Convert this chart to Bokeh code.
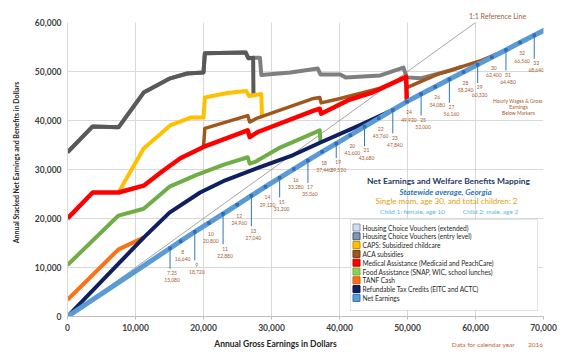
import math
from bokeh.plotting import figure
from bokeh.models import Label, BoxAnnotation, NumeralTickFormatter, FixedTicker, ColumnDataSource
from bokeh.embed import file_html
from bokeh.resources import INLINE
from bokeh.core.properties import value

# ---------------- data ----------------
series_names = [
    "Housing Choice Vouchers (extended)",
    "Housing Choice Vouchers (entry level)",
    "CAPS: Subsidized childcare",
    "ACA subsidies",
    "Medical Assistance (Medicaid and PeachCare)",
    "Food Assistance (SNAP, WIC, school lunches)",
    "TANF Cash",
    "Refundable Tax Credits (EITC and ACTC)",
    "Net Earnings",
]

housing_ext_gross = [0, 3700, 7500, 11200, 15100, 17600, 20000, 20200, 26200, 26600, 27500, 28300,
                     28500, 32800, 36800, 37200, 40100, 40900, 46000, 49400, 49900, 51900, 56300, 58000]
housing_ext_total = [33500, 38800, 38600, 45700, 48600, 49600, 49800, 53700, 53900, 52700, 52800, 52800,
                     49300, 49800, 50600, 49400, 49400, 48800, 49200, 50800, 48800, 48600, 50200, 51000]

housing_entry_gross = [0, 3700, 7500, 11200, 15100, 17600, 20000, 20200, 26200, 26600, 27300, 27350]
housing_entry_total = [33500, 38800, 38600, 45700, 48600, 49600, 49800, 53700, 53900, 52700, 52800, 45200]

caps_gross = [7500, 11200, 15100, 18100, 20000, 20200, 23500, 26300, 26700, 28500, 28600]
caps_total = [25300, 34300, 39000, 40600, 40600, 44700, 45600, 46000, 45000, 45400, 40900]

aca_gross = [20000, 20200, 26500, 26800, 27900, 36200, 37100, 37300, 40100, 46000, 49800, 49900,
             54400, 58000, 61000, 64000]
aca_total = [34600, 38400, 41000, 39700, 40500, 44500, 44700, 43600, 44500, 46600, 48900, 46700,
             49400, 51000, 52300, 54100]

medical_gross = [0, 3700, 7500, 11200, 14100, 16600, 20000, 26500, 26800, 27900, 36200, 37100, 37300,
                 41200, 45000, 49800, 49900]
medical_total = [20000, 25300, 25300, 26700, 29800, 32300, 34600, 38000, 36600, 37600, 42000, 42400, 41400,
                 44100, 45800, 48900, 43850]

food_gross = [0, 7500, 11200, 15000, 19000, 23000, 26500, 26800, 27500, 31000, 37100, 37200]
food_total = [10500, 20600, 22000, 26500, 28900, 31000, 32500, 31200, 31500, 34300, 38000, 35500]

tanf_gross = [0, 7500, 11200]
tanf_total = [3400, 13700, 16100]

refund_gross = [0, 11200, 15000, 19500, 23200, 28100, 33100, 37200, 43100, 47000, 47840]
refund_total = [0, 16100, 21200, 25300, 27800, 30400, 32900, 35500, 39100, 41600, 42150]

wage_rates = ["7.25", "8", "9", "10", "11", "12", "13", "14", "15", "16", "17", "18", "19", "20",
              "21", "22", "23", "24", "25", "26", "27", "28", "29", "30", "31", "32", "33"]
wage_gross = [15080, 16640, 18720, 20800, 22880, 24960, 27040, 29120, 31200, 33280, 35360, 37440,
              39520, 41600, 43680, 45760, 47840, 49920, 52000, 54080, 56160, 58240, 60320, 62400,
              64480, 66560, 68640]
net_at_wage = [13930, 15370, 17290, 19100, 20950, 22800, 24650, 26500, 28300, 30100, 31850, 33600,
               35300, 37000, 38750, 40450, 42150, 43850, 45400, 46900, 48400, 49900, 51400, 52900,
               54400, 55900, 57400]
net_start_gross, net_start = 0, 0
net_end_gross, net_end = 70500, 58700

ref_gross = [0, 61000]
ref_total = [0, 61000]

x_ticks = [0, 10000, 20000, 30000, 40000, 50000, 60000, 70000]
y_ticks = [0, 10000, 20000, 30000, 40000, 50000, 60000]

# ---------------- layout ----------------
W, H = 569, 357
FL, FR, FT, FB = 67, 543, 22, 316
X_MAX, Y_MAX = 70000, 60000
FONT = "Lato"


def gx(px):
    return (px - FL) / (FR - FL) * X_MAX


def gy(py):
    return (FB - py) / (FB - FT) * Y_MAX


PX_Y = Y_MAX / (FB - FT)

p = figure(width=W, height=H, x_range=(0, X_MAX), y_range=(0, Y_MAX),
           output_backend="svg", toolbar_location=None,
           min_border_left=FL, min_border_right=W - FR, min_border_top=FT, min_border_bottom=H - FB)
p.outline_line_color = None
p.background_fill_color = "white"
p.border_fill_color = "white"

for g in (p.xgrid, p.ygrid):
    g.grid_line_color = "#D9D9D9"
    g.grid_line_width = 1
p.xgrid.ticker = FixedTicker(ticks=x_ticks)
p.ygrid.ticker = FixedTicker(ticks=y_ticks)

p.xaxis.ticker = FixedTicker(ticks=x_ticks)
p.yaxis.ticker = FixedTicker(ticks=y_ticks)
for ax in (p.xaxis, p.yaxis):
    ax.formatter = NumeralTickFormatter(format="0,0")
    ax.major_label_text_font = FONT
    ax.major_label_text_font_style = "bold"
    ax.major_label_text_font_size = "8.5px"
    ax.major_label_text_color = "#404040"
    ax.minor_tick_line_color = None
    ax.major_tick_in = 0
p.xaxis.axis_line_color = "#BFBFBF"
p.xaxis.major_tick_line_color = "#BFBFBF"
p.xaxis.major_tick_out = 3
p.xaxis.major_label_standoff = 4
p.yaxis.axis_line_color = "#D9D9D9"
p.yaxis.major_tick_line_color = None
p.yaxis.major_tick_out = 0
p.yaxis.major_label_standoff = 6

# 1:1 reference line
p.line(ref_gross, ref_total, line_color="#A6A6A6", line_width=1)

colors = ["#7F7F7F", "#595959", "#FFC000", "#A0571E", "#FF0000", "#70AD47", "#FF7014", "#0F1F5F", "#5B9BD5"]
widths = [4, 4, 4, 3.5, 4.5, 4, 4, 4, 5]
series = [
    (housing_ext_gross, housing_ext_total),
    (housing_entry_gross, housing_entry_total),
    (caps_gross, caps_total),
    (aca_gross, aca_total),
    (medical_gross, medical_total),
    (food_gross, food_total),
    (tanf_gross, tanf_total),
    (refund_gross, refund_total),
]
for (xs, ys), c, w in zip(series, colors[:8], widths[:8]):
    p.line(xs, ys, line_color=c, line_width=w, line_join="round")

net_x = [net_start_gross] + wage_gross + [net_end_gross]
net_y = [net_start] + net_at_wage + [net_end]
p.line(net_x, net_y, line_color=colors[8], line_width=widths[8], line_join="round")
p.scatter(wage_gross, net_at_wage, marker="square", size=3.5, fill_color="#2E6DB4", line_color=None)

# wage labels below markers
short_drop = 11
long_drops = [25, 33, 35, 35, 24, 27, 19, 24, 28, 26, 28, 23, 25, 28]
drops = []
li = 0
for i in range(len(wage_gross)):
    if i % 2 == 0:
        drops.append(long_drops[li])
        li += 1
    else:
        drops.append(short_drop)
lab_src = ColumnDataSource(dict(
    x=wage_gross, y=net_at_wage,
    text=[f"{r}\n{g:,}" for r, g in zip(wage_rates, wage_gross)],
    yoff=[d - 3.2 for d in drops],
))
seg_x = [g for i, g in enumerate(wage_gross) if i % 2 == 0]
seg_y0 = [n for i, n in enumerate(net_at_wage) if i % 2 == 0]
seg_y1 = [n - (drops[i] - 4.5) * PX_Y for i, n in enumerate(net_at_wage) if i % 2 == 0]
p.segment(seg_x, seg_y0, seg_x, seg_y1, line_color="#2E75B6", line_width=1)
p.text(x="x", y="y", text="text", source=lab_src, y_offset="yoff", x_offset=2,
       text_align="center", text_baseline="top", text_font=value(FONT),
       text_font_size="5px", text_color="#A65E2E", text_line_height=1.2)


def label(px, py, text, size, color, style="normal", align="center"):
    p.add_layout(Label(x=gx(px), y=gy(py), text=text, text_font=FONT, text_font_size=size,
                       text_color=color, text_font_style=style, text_align=align,
                       text_baseline="middle"))


def plabel(px, py, text, size, color, place, style="normal", align="center", angle=0.0):
    # label held in a side panel, placed in canvas units
    p.add_layout(Label(x=px, y=py, x_units="canvas", y_units="canvas", text=text,
                       text_font=FONT, text_font_size=size, text_color=color, angle=angle,
                       text_font_style=style, text_align=align, text_baseline="middle"), place)


plabel(275, 343, "Annual Gross Earnings in Dollars", "8.5px", "#262626", "below", "bold")
plabel(483, 344, "Data for calendar year", "6.5px", "#B9653A", "below")
plabel(535, 344, "2016", "6.5px", "#B9653A", "below")
plabel(497, 15, "1:1 Reference Line", "7px", "#A0603A", "above")
plabel(15, 162, "Annual Stacked Net Earnings and Benefits in Dollars", "7px", "#262626", "left",
       "bold", angle=math.pi / 2)

label(518, 100, "Hourly  Wages & Gross", "5px", "#A65E2E")
label(518, 106, "Earnings", "5px", "#A65E2E")
label(518, 112, "Below Markers", "5px", "#A65E2E")

label(448, 180, "Net Earnings and Welfare Benefits Mapping", "8.4px", "#1F3864", "bold")
label(445, 191, "Statewide average, Georgia", "8px", "#2E75B6", "bold italic")
label(446, 200.5, "Single mom, age 30, and total children: 2", "8px", "#E3A008")
label(412, 211, "Child 1: female, age 10", "6.5px", "#5BB4E5")
label(490, 211, "Child 2: male, age 2", "6.5px", "#5BB4E5")

# legend
p.add_layout(BoxAnnotation(left=gx(350), right=gx(537), top=gy(219), bottom=gy(310),
                           fill_color="white", fill_alpha=1, line_color="#A6A6A6", line_width=1))
row_y = [227 + 8.8 * i for i in range(9)]
sw_fill = ["#D6DCE5", "#8497B0", "#FFC000", "#A0571E", "#FF0000", "#8FD14F", "#FF7014", "#0F1F5F", "#5B9BD5"]
sw_line = ["#8497B0", "#44546A", "#BF9000", "#6B3A13", "#C00000", "#70AD47", "#C55A11", "#0A1440", "#2E75B6"]
p.scatter([gx(356)] * 9, [gy(y) for y in row_y], marker="square", size=7,
          fill_color=sw_fill, line_color=sw_line, line_width=1, level="overlay")
for name, y in zip(series_names, row_y):
    label(362, y, name, "6.6px", "#262626", align="left")

open("out.html", "w").write(file_html(p, INLINE))
